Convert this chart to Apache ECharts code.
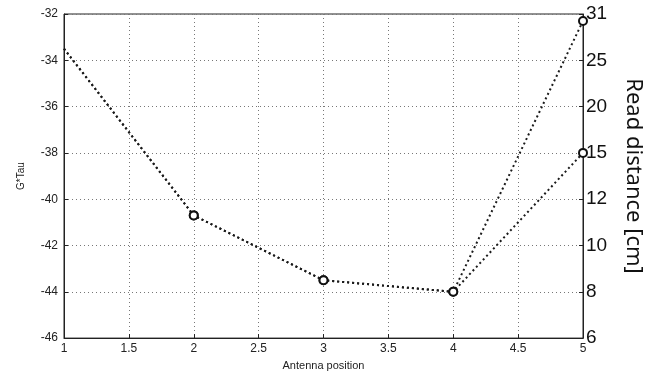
<!DOCTYPE html>
<html>
<head>
<meta charset="utf-8">
<script src="https://cdn.jsdelivr.net/npm/echarts@6/dist/echarts.min.js"></script>
<style>
html,body{margin:0;padding:0;background:#fff;}
#main{width:660px;height:376px;}
</style>
</head>
<body>
<div id="main"></div>
<script>
// antenna positions and G*Tau values
var positions = [1, 2, 3, 4, 5];
var gTauA = [-33.5, -40.7, -43.5, -44.0, -32.3];
var gTauB = [-33.5, -40.7, -43.5, -44.0, -38.0];
// left ticks and the read distance labels shown on the right at the same ticks
var leftTicks = [-46, -44, -42, -40, -38, -36, -34, -32];
var readDistLabels = ['6', '8', '10', '12', '15', '20', '25', '31'];

function pairs(xs, ys) {
	var out = [];
	for (var i = 0; i < xs.length; i++) {
		// first marker sits on the frame edge and is barely visible in the original
		if (i == 0) { out.push({ value: [xs[i], ys[i]], symbol: 'none' }); }
		else { out.push([xs[i], ys[i]]); }
	}
	return out;
}

var myChart = echarts.init(document.getElementById('main'));
var gridLine = { show: true, lineStyle: { color: '#777', type: [1, 3], width: 1 } };
var option = {
	animation: false,
	backgroundColor: '#fff',
	grid: { left: 64, right: 77, top: 14, bottom: 37, show: true, borderColor: '#222', borderWidth: 1 },
	xAxis: {
		type: 'value', min: 1, max: 5, interval: 0.5,
		name: 'Antenna position', nameLocation: 'middle', nameGap: 20,
		nameTextStyle: { fontFamily: 'Liberation Sans', fontSize: 11, color: '#222' },
		axisLine: { lineStyle: { color: '#222' } },
		axisTick: { inside: true, length: 4, lineStyle: { color: '#222' } },
		axisLabel: { fontFamily: 'Liberation Sans', fontSize: 12, color: '#222', margin: 5 },
		splitLine: gridLine
	},
	yAxis: [{
		type: 'value', min: -46, max: -32, interval: 2,
		name: 'G*Tau', nameLocation: 'middle', nameGap: 38, nameRotate: 90,
		nameTextStyle: { fontFamily: 'Liberation Sans', fontSize: 10, color: '#222' },
		axisLine: { show: true, lineStyle: { color: '#222' } },
		axisTick: { inside: true, length: 4, lineStyle: { color: '#222' } },
		axisLabel: { fontFamily: 'Liberation Sans', fontSize: 12, color: '#222', margin: 6 },
		splitLine: gridLine
	}, {
		type: 'value', min: -46, max: -32, interval: 2, position: 'right',
		name: 'Read distance [cm]', nameLocation: 'middle', nameGap: 39, nameRotate: -90,
		nameTextStyle: { fontFamily: 'Noto Sans', fontSize: 22, color: '#111' },
		axisLine: { show: true, lineStyle: { color: '#222' } },
		axisTick: { inside: true, length: 4, lineStyle: { color: '#222' } },
		axisLabel: {
			fontFamily: 'Liberation Sans', fontSize: 19, color: '#111', margin: 3,
			formatter: function (v) {
				var i = leftTicks.indexOf(Math.round(v));
				return i >= 0 ? readDistLabels[i] : '';
			}
		},
		splitLine: { show: false }
	}],
	series: [{
		type: 'line', data: pairs(positions, gTauB),
		symbol: 'circle', symbolSize: 8, showSymbol: true,
		itemStyle: { color: '#fff', borderColor: '#111', borderWidth: 2 },
		lineStyle: { color: '#1a1a1a', width: 2, type: [2, 3] },
		clip: false, z: 3
	}, {
		type: 'line', data: pairs(positions, gTauA),
		symbol: 'circle', symbolSize: 8, showSymbol: true,
		itemStyle: { color: '#fff', borderColor: '#111', borderWidth: 2 },
		lineStyle: { color: '#1a1a1a', width: 2, type: [2, 3] },
		clip: false, z: 3
	}]
};
myChart.setOption(option);
</script>
</body>
</html>
